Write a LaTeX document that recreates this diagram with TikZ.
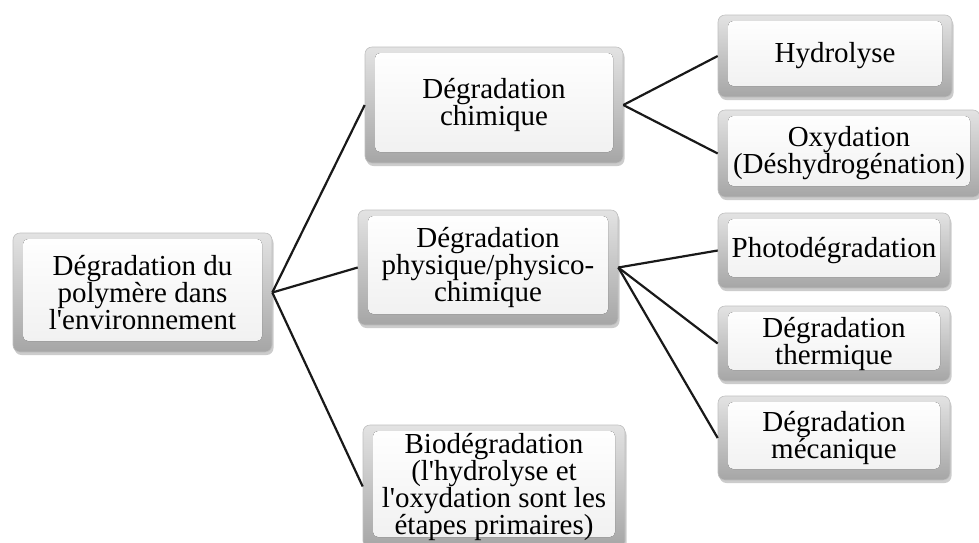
\documentclass[tikz,border=0pt]{standalone}
\usepackage{fontspec}
\setmainfont{Liberation Serif}
\usetikzlibrary{shadows}
\newcommand{\sq}{\textquotesingle}
\tikzset{
  bbox/.style={rounded corners=7pt, draw=gray!50, line width=0.6pt,
    top color=gray!22, bottom color=gray!70,
    drop shadow={opacity=0.4, shadow xshift=1.5pt, shadow yshift=-3pt},
    inner sep=0pt, align=center, text=black,
    font=\fontsize{29}{27}\selectfont,
    path picture={\fill[rounded corners=5pt, top color=white, bottom color=gray!12]
      ([shift={(10pt,-6pt)}]path picture bounding box.north west) rectangle
      ([shift={(-10pt,11pt)}]path picture bounding box.south east);}},
  link/.style={line width=2.2pt, draw=black!90}
}
\begin{document}
\begin{tikzpicture}[x=1pt,y=-1pt]
\useasboundingbox[fill=white] (0,0) rectangle (979,542);
% level 0
\node[bbox, minimum width=259pt, minimum height=119pt] (root) at (142.5,292.5)
  {Dégradation du\\polymère dans\\l\sq environnement};
% level 1
\node[bbox, minimum width=258pt, minimum height=116pt] (chim) at (494,105)
  {Dégradation\\chimique};
\node[bbox, minimum width=260pt, minimum height=115pt] (phys) at (488,267.5)
  {Dégradation\\physique/physico-\\chimique};
\node[bbox, minimum width=262pt, minimum height=123pt] (bio) at (494,486.5)
  {Biodégradation\\(l\sq hydrolyse et\\l\sq oxydation sont les\\étapes primaires)};
% level 2
\node[bbox, minimum width=234pt, minimum height=82pt] (hydro) at (835,56)
  {Hydrolyse};
\node[bbox, minimum width=262pt, minimum height=87pt] (oxy) at (849,153.5)
  {Oxydation\\(Déshydrogénation)};
\node[bbox, minimum width=232pt, minimum height=75pt] (photo) at (834,250.5)
  {Photodégradation};
\node[bbox, minimum width=232pt, minimum height=75pt] (therm) at (834,343.5)
  {Dégradation\\thermique};
\node[bbox, minimum width=232pt, minimum height=84pt] (meca) at (834,438)
  {Dégradation\\mécanique};
% connectors
\draw[link] (root.east) -- (chim.west);
\draw[link] (root.east) -- (phys.west);
\draw[link] (root.east) -- (bio.west);
\draw[link] (chim.east) -- (hydro.west);
\draw[link] (chim.east) -- (oxy.west);
\draw[link] (phys.east) -- (photo.west);
\draw[link] (phys.east) -- (therm.west);
\draw[link] (phys.east) -- (meca.west);
\end{tikzpicture}
\end{document}
